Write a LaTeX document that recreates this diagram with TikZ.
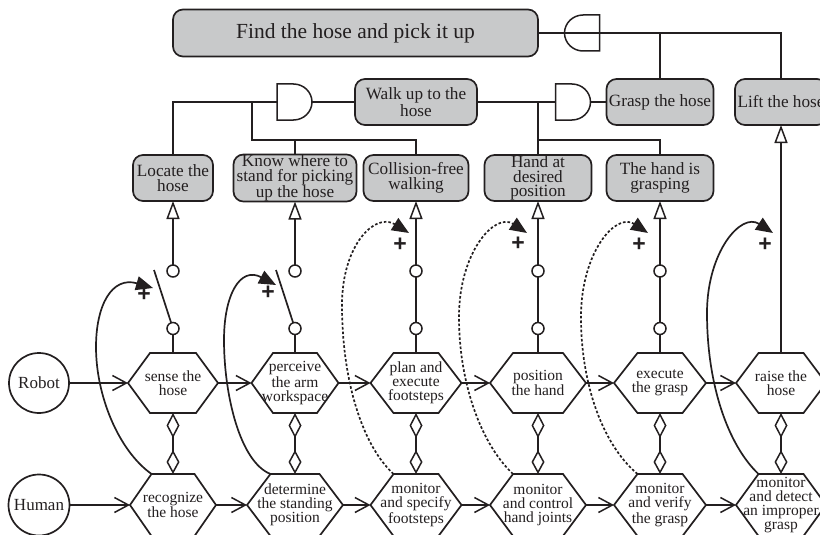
\documentclass[tikz,border=0pt]{standalone}
\usepackage{fontspec}
\setmainfont{Liberation Serif}
\newfontfamily\plusfont{Liberation Sans}
\usetikzlibrary{arrows.meta,calc}
\definecolor{ink}{HTML}{231F20}
\definecolor{goalgray}{HTML}{C8C9CA}
\tikzset{
  outline/.style={line width=1.7pt,draw=ink,text=ink},
  goalbox/.style={outline,fill=goalgray,rounded corners=10pt,inner sep=0pt,outer sep=0pt,align=center,font=\fontsize{17.2}{14.8}\selectfont},
  hexlabel/.style={inner sep=0pt,outer sep=0pt,align=center,text=ink,font=\fontsize{15.5}{14}\selectfont},
  actor/.style={outline,circle,inner sep=0pt,outer sep=0pt,minimum size=60pt,font=\fontsize{17}{17}\selectfont},
  portc/.style={outline,circle,inner sep=0pt,outer sep=0pt,minimum size=12pt,line width=1.5pt},
  wire/.style={line width=1.7pt,draw=ink},
  flowarrow/.style={wire,-{Straight Barb[length=14pt,width=15pt,line width=1.5pt]}},
  liftarrow/.style={wire,-{Triangle[open,length=18pt,width=13pt,line width=1.5pt]}},
  linkarrow/.style={wire,{Diamond[open,length=25pt,width=13pt,line width=1.5pt]}-{Diamond[open,length=24pt,width=13pt,line width=1.5pt]}},
  enablecurve/.style={wire,-{Triangle[length=17pt,width=14pt]}},
  dotcurve/.style={enablecurve,dash pattern=on 2.6pt off 2pt},
  plusmark/.style={inner sep=0pt,text=ink,font=\plusfont\bfseries\fontsize{23}{23}\selectfont},
}
% name, cx, cy, half width, half top edge, half height, text
\newcommand{\hexa}[7]{%
  \draw[outline,fill=white] ($(#2,#3)+(-#4,0)$) -- ($(#2,#3)+(-#5,-#6)$) coordinate (#1-tl) -- ($(#2,#3)+(#5,-#6)$) -- ($(#2,#3)+(#4,0)$) -- ($(#2,#3)+(#5,#6)$) -- ($(#2,#3)+(-#5,#6)$) -- cycle;
  \node[hexlabel,minimum width=#4*2pt,minimum height=#6*2pt] (#1) at (#2,#3) {#7};
}
% name, cx, cy, mirror (1 or -1)
\newcommand{\andgate}[4]{%
  \begin{scope}[shift={(#2,#3)},xscale=#4]
    \draw[line width=1.5pt,draw=ink] (-17.5,-18) -- (-1,-18) .. controls (9,-18) and (17.5,-10) .. (17.5,0) .. controls (17.5,10) and (9,18) .. (-1,18) -- (-17.5,18) -- cycle;
  \end{scope}
  \node[inner sep=0pt,outer sep=0pt,minimum width=35pt,minimum height=36pt] (#1) at (#2,#3) {};
}
\begin{document}
\begin{tikzpicture}[x=1pt,y=-1pt]
\useasboundingbox (0,0) rectangle (820,535);
% goals
\node[goalbox,minimum width=365pt,minimum height=47pt,font=\fontsize{21.5}{24}\selectfont] (top) at (355.5,33) {Find the hose and pick it up};
\node[goalbox,minimum width=122pt,minimum height=46pt] (walk) at (416,102) {Walk up to the\\hose};
\node[goalbox,minimum width=107pt,minimum height=46pt] (grasp) at (660,102) {Grasp the hose};
\node[goalbox,minimum width=92pt,minimum height=46pt] (liftg) at (781,102) {Lift the hose};
\node[goalbox,minimum width=80pt,minimum height=46pt] (locate) at (173,178) {Locate the\\hose};
\node[goalbox,minimum width=123pt,minimum height=46pt] (know) at (295,178) {Know where to\\stand for picking\\up the hose};
\node[goalbox,minimum width=105pt,minimum height=46pt] (coll) at (416,178) {Collision-free\\walking};
\node[goalbox,minimum width=107pt,minimum height=46pt] (hand) at (538,178) {Hand at\\desired\\position};
\node[goalbox,minimum width=107pt,minimum height=46pt] (isgr) at (660,178) {The hand is\\grasping};
% gates
\andgate{g1}{294.5}{102}{1}
\andgate{g2}{573}{102}{1}
\andgate{g3}{582}{33}{-1}
\coordinate (j1) at (252,102);
\coordinate (j1b) at (252,140);
\coordinate (j2) at (538,102);
\coordinate (j2b) at (538,140);
\coordinate (j3) at (660,33);
\draw[wire] (top.east) -- (g3.east);
\draw[wire] (g3.west) -| (liftg.north);
\draw[wire] (j3) -- (grasp.north);
\draw[wire] (g1.east) -- (walk.west);
\draw[wire] (g1.west) -| (locate.north);
\draw[wire] (j1) -- (j1b) -| (coll.north);
\draw[wire] (know.north |- j1b) -- (know.north);
\draw[wire] (walk.east) -- (g2.west);
\draw[wire] (g2.east) -- (grasp.west);
\draw[wire] (j2) -- (hand.north);
\draw[wire] (j2b) -| (isgr.north);
% actors
\node[actor] (robot) at (39,383) {Robot};
\node[actor,minimum size=61pt] (human) at (39,505) {Human};
% activities
\hexa{r1}{173}{383}{45}{23}{30}{sense the\\hose}
\hexa{r2}{295}{383}{43.5}{22}{30}{perceive\\the arm\\workspace}
\hexa{r3}{416}{383}{45.5}{22.5}{30}{plan and\\execute\\footsteps}
\hexa{r4}{538}{383}{48}{25}{30}{position\\the hand}
\hexa{r5}{660}{383}{46}{22.5}{30}{execute\\the grasp}
\hexa{r6}{781}{383}{45}{22.5}{30}{raise the\\hose}
\hexa{h1}{173}{505}{43}{21.5}{31}{recognize\\the hose}
\hexa{h2}{295}{505}{48}{24.5}{31}{determine\\the standing\\position}
\hexa{h3}{416}{505}{45.5}{22.5}{31}{monitor\\and specify\\footsteps}
\hexa{h4}{538}{505}{48}{25}{31}{monitor\\and control\\hand joints}
\hexa{h5}{660}{505}{46}{22.5}{31}{monitor\\and verify\\the grasp}
\hexa{h6}{781}{505}{45}{22.5}{31}{monitor\\and detect\\an improper\\grasp}
% flows
\draw[flowarrow] (robot.east) -- (r1.west);
\draw[flowarrow] (r1.east) -- (r2.west);
\draw[flowarrow] (r2.east) -- (r3.west);
\draw[flowarrow] (r3.east) -- (r4.west);
\draw[flowarrow] (r4.east) -- (r5.west);
\draw[flowarrow] (r5.east) -- (r6.west);
\draw[flowarrow] (human.east) -- (h1.west);
\draw[flowarrow] (h1.east) -- (h2.west);
\draw[flowarrow] (h2.east) -- (h3.west);
\draw[flowarrow] (h3.east) -- (h4.west);
\draw[flowarrow] (h4.east) -- (h5.west);
\draw[flowarrow] (h5.east) -- (h6.west);
% links
\draw[linkarrow] (r1.south) -- (h1.north);
\draw[linkarrow] (r2.south) -- (h2.north);
\draw[linkarrow] (r3.south) -- (h3.north);
\draw[linkarrow] (r4.south) -- (h4.north);
\draw[linkarrow] (r5.south) -- (h5.north);
\draw[linkarrow] (r6.south) -- (h6.north);
% ports
\node[portc] (p1a) at (173,328.5) {};
\node[portc] (p1b) at (173,271) {};
\node[portc] (p2a) at (295,328.5) {};
\node[portc] (p2b) at (295,271) {};
\node[portc] (p3a) at (416,328.5) {};
\node[portc] (p3b) at (416,271) {};
\node[portc] (p4a) at (538,328.5) {};
\node[portc] (p4b) at (538,271) {};
\node[portc] (p5a) at (660,328.5) {};
\node[portc] (p5b) at (660,271) {};
\draw[wire] (r1.north) -- (p1a);
\draw[wire] (r2.north) -- (p2a);
\draw[wire] (r3.north) -- (p3a);
\draw[wire] (r4.north) -- (p4a);
\draw[wire] (r5.north) -- (p5a);
\draw[wire] (p3a) -- (p3b);
\draw[wire] (p4a) -- (p4b);
\draw[wire] (p5a) -- (p5b);
\draw[liftarrow] (p1b) -- (locate.south);
\draw[liftarrow] (p2b) -- (know.south);
\draw[liftarrow] (p3b) -- (coll.south);
\draw[liftarrow] (p4b) -- (hand.south);
\draw[liftarrow] (p5b) -- (isgr.south);
\draw[liftarrow] (r6.north) -- (liftg.south);
% switches
\coordinate (s1) at (154,270);
\coordinate (s2) at (276,270);
\draw[wire] (p1a) -- (s1);
\draw[wire] (p2a) -- (s2);
% enabling curves
\coordinate (e1) at (153,288);
\coordinate (e2) at (276,285);
\coordinate (e3) at (409,233);
\coordinate (e4) at (527,233);
\coordinate (e5) at (648,233);
\coordinate (e6) at (773,233);
\draw[enablecurve] (h1-tl) .. controls (118,450) and (96,395) .. (96,347) .. controls (96,305) and (112,276) .. (e1);
\draw[enablecurve] (h2-tl) .. controls (240,462) and (224,395) .. (224,340) .. controls (224,295) and (240,266) .. (e2);
\draw[dotcurve] (h3-tl) .. controls (362,445) and (342,380) .. (342,305) .. controls (342,245) and (375,212) .. (e3);
\draw[dotcurve] (h4-tl) .. controls (482,445) and (459,385) .. (459,317) .. controls (459,252) and (495,212) .. (e4);
\draw[dotcurve] (h5-tl) .. controls (603,445) and (581,385) .. (581,317) .. controls (581,252) and (616,212) .. (e5);
\draw[enablecurve] (h6-tl) .. controls (728,445) and (707,385) .. (707,313) .. controls (707,252) and (741,212) .. (e6);
% plus signs
\node[plusmark] (m1) at (144,295) {+};
\node[plusmark] (m2) at (268,293) {+};
\node[plusmark] (m3) at (400,245) {+};
\node[plusmark] (m4) at (518,244) {+};
\node[plusmark] (m5) at (639,245) {+};
\node[plusmark] (m6) at (765,245) {+};
\end{tikzpicture}
\end{document}
